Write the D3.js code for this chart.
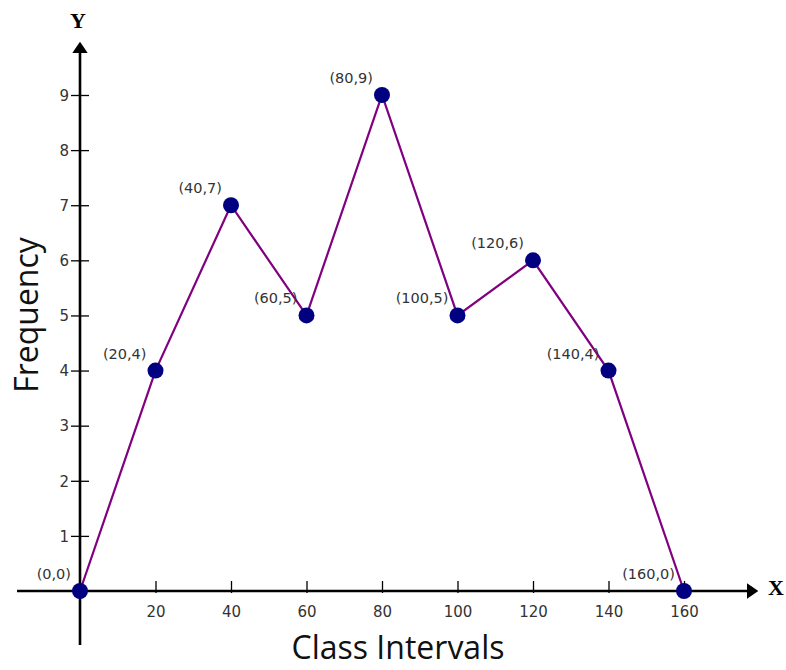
<!DOCTYPE html>
<html>
<head>
<meta charset="utf-8">
<script src="https://cdn.jsdelivr.net/npm/d3@7"></script>
<style>
  body { margin: 0; background: #fff; }
  svg { display: block; }
</style>
</head>
<body>
<svg id="chart"></svg>
<script>
        // Data
        const classIntervals = [0, 20, 40, 60, 80, 100, 120, 140, 160];
        const frequencies = [0, 4, 7, 5, 9, 5, 6, 4, 0];
        const xTicks = [20, 40, 60, 80, 100, 120, 140, 160];
        const yTicks = [1, 2, 3, 4, 5, 6, 7, 8, 9];

        const width = 786, height = 670;
        const svg = d3.select("#chart").attr("width", width).attr("height", height);

        // Scales
        const x = d3.scaleLinear().domain([0, 160]).range([80, 684]);
        const y = d3.scaleLinear().domain([0, 9]).range([591, 95]);

        const points = classIntervals.map((c, i) => ({ x: c, y: frequencies[i] }));

        // Arrow marker for axes
        svg.append("defs").append("marker")
            .attr("id", "arrow")
            .attr("viewBox", "0 0 10 10")
            .attr("refX", 1).attr("refY", 5)
            .attr("markerWidth", 4.4).attr("markerHeight", 6)
            .attr("markerUnits", "strokeWidth")
            .attr("orient", "auto")
            .attr("preserveAspectRatio", "none")
            .append("path").attr("d", "M0,0 L10,5 L0,10 Z").attr("fill", "#000");

        // Axis lines
        svg.append("line")
            .attr("x1", x(0) - 63).attr("x2", x(160) + 64)
            .attr("y1", y(0)).attr("y2", y(0))
            .attr("stroke", "#000").attr("stroke-width", 2.6)
            .attr("marker-end", "url(#arrow)");
        svg.append("line")
            .attr("x1", x(0)).attr("x2", x(0))
            .attr("y1", y(0) + 54).attr("y2", y(9) - 43)
            .attr("stroke", "#000").attr("stroke-width", 2.6)
            .attr("marker-end", "url(#arrow)");

        // X axis ticks
        const xAxis = svg.append("g")
            .attr("transform", `translate(0,${y(0)})`)
            .call(d3.axisBottom(x).tickValues(xTicks).tickSize(0).tickPadding(0));
        xAxis.select(".domain").remove();
        xAxis.selectAll(".tick line").attr("y1", -10).attr("y2", 2)
            .attr("stroke", "#000").attr("stroke-width", 1.3);
        xAxis.selectAll(".tick text").attr("y", 26).attr("dy", 0)
            .attr("font-family", "DejaVu Sans, Verdana, sans-serif")
            .attr("font-size", 15).attr("fill", "#333");

        // Y axis ticks
        const yAxis = svg.append("g")
            .attr("transform", `translate(${x(0)},0)`)
            .call(d3.axisLeft(y).tickValues(yTicks).tickSize(0).tickPadding(0));
        yAxis.select(".domain").remove();
        yAxis.selectAll(".tick line").attr("x1", -9).attr("x2", 9)
            .attr("stroke", "#000").attr("stroke-width", 1.3);
        yAxis.selectAll(".tick text").attr("x", -11).attr("dy", "0.35em")
            .attr("font-family", "DejaVu Sans, Verdana, sans-serif")
            .attr("font-size", 15).attr("fill", "#333");

        // Axis letters
        svg.append("text")
            .attr("x", x(160) + 92).attr("y", y(0) + 4)
            .attr("text-anchor", "middle")
            .attr("font-family", "Liberation Serif, Times New Roman, serif")
            .attr("font-weight", "bold").attr("font-size", 22)
            .text("X");
        svg.append("text")
            .attr("x", x(0) - 2).attr("y", 28)
            .attr("text-anchor", "middle")
            .attr("font-family", "Liberation Serif, Times New Roman, serif")
            .attr("font-weight", "bold").attr("font-size", 22)
            .text("Y");

        // Axis titles
        svg.append("text")
            .attr("x", 398).attr("y", 659)
            .attr("text-anchor", "middle")
            .attr("font-family", "Open Sans, Noto Sans, sans-serif")
            .attr("font-size", 32).attr("fill", "#111")
            .text("Class Intervals");
        svg.append("text")
            .attr("transform", "translate(38,315) rotate(-90)")
            .attr("text-anchor", "middle")
            .attr("font-family", "Open Sans, Noto Sans, sans-serif")
            .attr("font-size", 32).attr("fill", "#111")
            .text("Frequency");

        // Polygon line
        const line = d3.line().x(d => x(d.x)).y(d => y(d.y));
        svg.append("path")
            .datum(points)
            .attr("d", line)
            .attr("fill", "none")
            .attr("stroke", "#800080")
            .attr("stroke-width", 2.2);

        // Points
        svg.selectAll("circle.pt")
            .data(points)
            .join("circle")
            .attr("class", "pt")
            .attr("cx", d => x(d.x)).attr("cy", d => y(d.y))
            .attr("r", 8)
            .attr("fill", "#000080");

        // Point labels
        svg.selectAll("text.lbl")
            .data(points)
            .join("text")
            .attr("class", "lbl")
            .attr("x", d => x(d.x) - 9).attr("y", d => y(d.y) - 12)
            .attr("text-anchor", "end")
            .attr("font-family", "DejaVu Sans, Verdana, sans-serif")
            .attr("font-size", 14.5).attr("fill", "#333")
            .text(d => `(${d.x},${d.y})`);
</script>
</body>
</html>
